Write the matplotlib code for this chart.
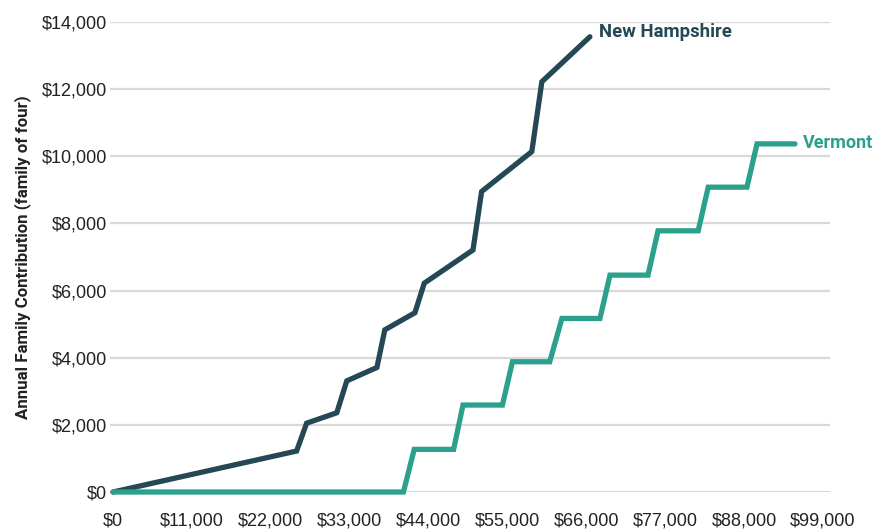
import numpy as np
import matplotlib.pyplot as plt
from matplotlib.ticker import FuncFormatter

# income (x) vs annual family contribution (y)
nh_income = [0, 25600, 27000, 31200, 32600, 36800, 37900, 42100, 43400, 50200, 51400, 58400, 59800, 66500]
nh_contrib = [0, 1220, 2050, 2360, 3310, 3710, 4830, 5340, 6220, 7210, 8950, 10140, 12220, 13560]

vt_income = [0, 40500, 42000, 47500, 48800, 54300, 55700, 60900, 62600, 67900, 69300, 74600, 76000, 81600, 83000, 88400, 89800, 95100]
vt_contrib = [0, 0, 1270, 1270, 2590, 2590, 3880, 3880, 5170, 5170, 6460, 6460, 7780, 7780, 9080, 9080, 10370, 10370]

x_ticks = np.arange(0, 99001, 11000)
y_ticks = np.arange(0, 14001, 2000)

nh_color = '#244855'
vt_color = '#2ba08c'
narrow = ['Roboto', 'DejaVu Sans']

fig = plt.figure(figsize=(8.75, 5.31), dpi=100)
ax = fig.add_axes([110 / 875, (531 - 492) / 531, 720 / 875, 470 / 531])

ax.plot(nh_income, nh_contrib, color=nh_color, lw=3.8, solid_capstyle='round',
        solid_joinstyle='miter', clip_on=False, zorder=3)
ax.plot(vt_income, vt_contrib, color=vt_color, lw=3.8, solid_capstyle='round',
        solid_joinstyle='miter', clip_on=False, zorder=3)

ax.text(nh_income[-1] + 1200, nh_contrib[-1] + 150, 'New Hampshire', color=nh_color,
        fontsize=13.3, fontweight='bold', family=narrow, va='center', ha='left')
ax.text(vt_income[-1] + 1150, vt_contrib[-1] + 30, 'Vermont', color=vt_color,
        fontsize=13, fontweight='bold', family=narrow, va='center', ha='left')

ax.set_xlim(-420, 99980)
ax.set_ylim(0, 14000)
ax.set_xticks(x_ticks)
ax.set_yticks(y_ticks)
ax.xaxis.set_major_formatter(FuncFormatter(lambda v, p: '${:,.0f}'.format(v)))
ax.yaxis.set_major_formatter(FuncFormatter(lambda v, p: '${:,.0f}'.format(v)))
ax.tick_params(axis='both', length=0, labelsize=13, labelcolor='#222222')
ax.tick_params(axis='x', pad=15)
ax.tick_params(axis='y', pad=2)
for lab in ax.get_xticklabels() + ax.get_yticklabels():
    lab.set_family('Liberation Sans')

ax.grid(axis='y', color='#d9d9d9', lw=1.6)
ax.set_axisbelow(True)
for s in ax.spines.values():
    s.set_visible(False)

ax.set_ylabel('Annual Family Contribution (family of four)', fontsize=12.2,
              fontweight='bold', family=narrow, color='#222222', labelpad=8)

fig.savefig('out.png', dpi=100)
